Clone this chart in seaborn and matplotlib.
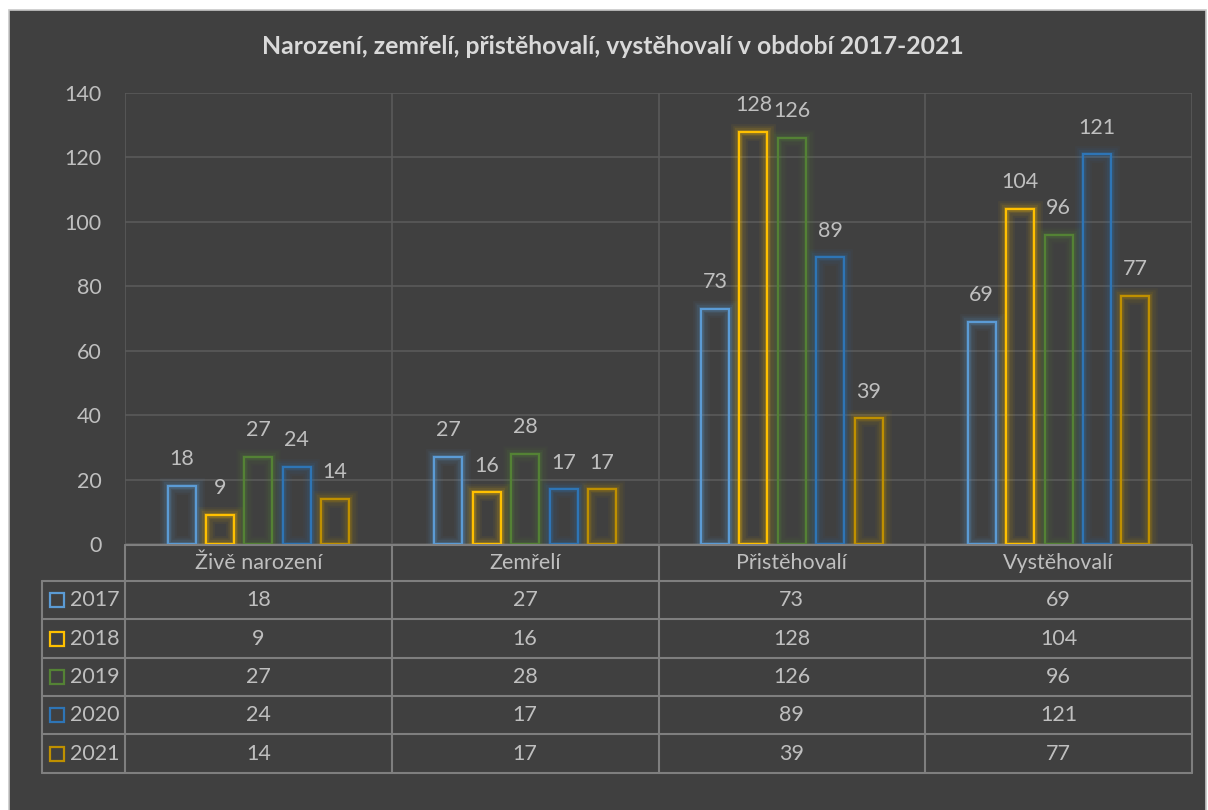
import numpy as np
import pandas as pd
import seaborn as sns
import matplotlib.pyplot as plt
from matplotlib import patheffects as pe
from matplotlib.patches import Rectangle
from matplotlib.lines import Line2D
from matplotlib import transforms

categories = ["Živě narození", "Zemřelí", "Přistěhovalí", "Vystěhovalí"]
years = ["2017", "2018", "2019", "2020", "2021"]
v2017 = [18, 27, 73, 69]
v2018 = [9, 16, 128, 104]
v2019 = [27, 28, 126, 96]
v2020 = [24, 17, 89, 121]
v2021 = [14, 17, 39, 77]
series = [v2017, v2018, v2019, v2020, v2021]
colors = ["#5B9BD5", "#FFC000", "#548235", "#2E75B6", "#BF9000"]
title = "Narození, zemřelí, přistěhovalí, vystěhovalí v období 2017-2021"
yticks = [0, 20, 40, 60, 80, 100, 120, 140]

sns.set_theme(style="dark")
plt.rcParams['font.family'] = ['Lato', 'DejaVu Sans']

W, H = 1208, 810
def fx(p): return p / W
def fy(p): return 1 - p / H

FS = 15.5
fig = plt.figure(figsize=(W / 100, H / 100), dpi=100, facecolor="white")
fig.patches.append(Rectangle((fx(9), fy(812)), fx(1206) - fx(9), fy(10) - fy(812),
                             transform=fig.transFigure, facecolor="#404040",
                             edgecolor="#C8C8C8", lw=1.2, zorder=-5))

ax = fig.add_axes([fx(125), fy(544), fx(1192) - fx(125), fy(93) - fy(544)])
ax.set_facecolor("none")
ax.set_zorder(2)

df = pd.DataFrame([(c, y, s[i]) for y, s in zip(years, series) for i, c in enumerate(categories)],
                  columns=["cat", "year", "val"])
sns.barplot(data=df, x="cat", y="val", hue="year", palette=colors, width=0.72, gap=0.27,
            ax=ax, legend=False, saturation=1)

txtc = "#BFBFBF"
for cont, c in zip(ax.containers, colors):
    for p in cont:
        p.set_facecolor("none")
        p.set_edgecolor(c)
        p.set_linewidth(1.6)
        p.set_zorder(3)
        p.set_path_effects([pe.Stroke(linewidth=12, foreground=c, alpha=0.05),
                            pe.Stroke(linewidth=9, foreground=c, alpha=0.07),
                            pe.Stroke(linewidth=6, foreground=c, alpha=0.10),
                            pe.Stroke(linewidth=3.5, foreground=c, alpha=0.18),
                            pe.Normal()])
    ax.bar_label(cont, padding=12, color=txtc, fontsize=FS)

ax.set_xlim(-0.5, 3.5)
ax.set_ylim(0, 140)
ax.set_yticks(yticks)
ax.set_yticklabels([str(t) for t in yticks], color=txtc, fontsize=FS)
ax.tick_params(axis="y", length=0, pad=17)
ax.set_xticks([])
ax.set_xlabel("")
ax.set_ylabel("")
for s in ax.spines.values():
    s.set_visible(False)
ax.grid(False)
for t in yticks:
    ax.axhline(t, color="#5A5A5A", lw=1.2, zorder=1)
for xv in np.arange(-0.5, len(categories), 1.0):
    ax.axvline(xv, color="#5A5A5A", lw=1.2, zorder=1)

fig.text(fx(613), fy(47), title, ha="center", va="center", color="#D9D9D9",
         fontsize=17.8, fontweight="bold")

# data table
lc = "#7F7F7F"
bt = transforms.blended_transform_factory(ax.transData, fig.transFigure)
hdr_top, hdr_bot = 545, 581
row_h = 38.34
rows = [hdr_bot + i * row_h for i in range(len(years) + 1)]
xl, xa, xr = 42, 125, 1192
def hline(y, x0, x1):
    fig.add_artist(Line2D([fx(x0), fx(x1)], [fy(y), fy(y)], color=lc, lw=1.5, transform=fig.transFigure))
def vline(x, y0, y1):
    fig.add_artist(Line2D([fx(x), fx(x)], [fy(y0), fy(y1)], color=lc, lw=1.5, transform=fig.transFigure))
hline(hdr_top, xa, xr)
for y in rows:
    hline(y, xl, xr)
vline(xl, rows[0], rows[-1])
for k in range(len(categories) + 1):
    xp = xa + k * (xr - xa) / len(categories)
    vline(xp, hdr_top, rows[-1])

for i, c in enumerate(categories):
    fig.text(i, fy((hdr_top + hdr_bot) / 2), c, transform=bt, ha="center", va="center",
             color=txtc, fontsize=FS)
for j, (y, s, col) in enumerate(zip(years, series, colors)):
    yc = (rows[j] + rows[j + 1]) / 2
    fig.patches.append(Rectangle((fx(50), fy(yc + 7)), fx(14), 14 / H, transform=fig.transFigure,
                                 facecolor="none", edgecolor=col, lw=1.6))
    fig.text(fx(70), fy(yc), y, ha="left", va="center", color=txtc, fontsize=FS)
    for i, v in enumerate(s):
        fig.text(i, fy(yc), str(v), transform=bt, ha="center", va="center", color=txtc, fontsize=FS)

fig.savefig("out.png", dpi=100, facecolor="white")
